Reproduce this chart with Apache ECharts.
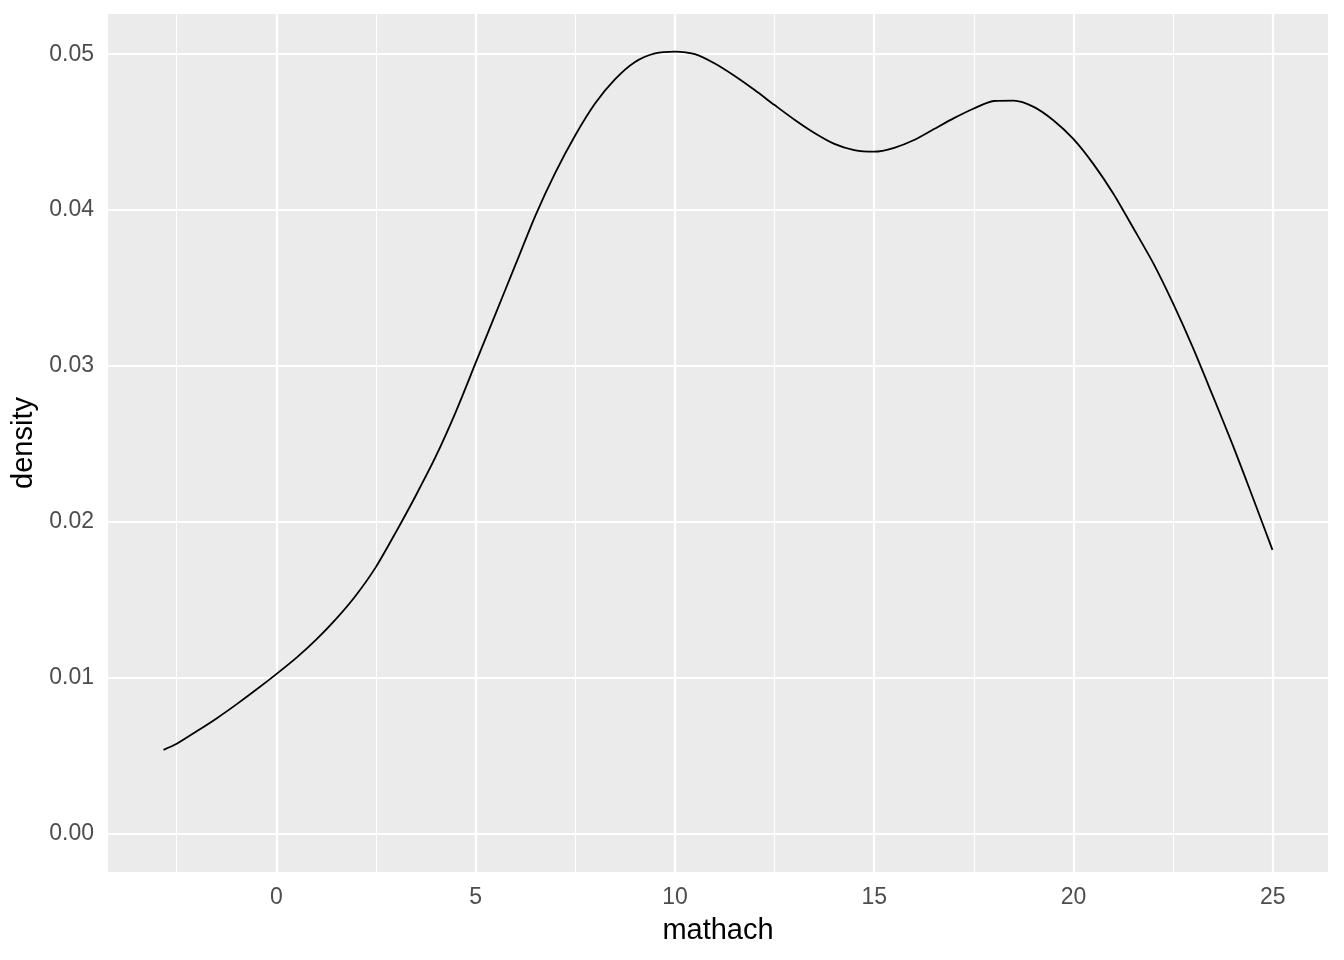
<!DOCTYPE html>
<html><head><meta charset="utf-8">
<script src="https://cdn.jsdelivr.net/npm/echarts@6/dist/echarts.min.js"></script>
<style>html,body{margin:0;padding:0;background:#fff}#c{width:1344px;height:960px}</style>
</head><body><div id="c"></div>
<script>
// Kernel density of mathach
const mathach = [-2.83, -2.5, -2.0, -1.5, -1.0, -0.5, 0, 0.5, 1.0, 1.5, 2.0, 2.5, 3.0, 3.5, 4.0, 4.5, 5.0, 5.5, 6.0, 6.5, 7.0, 7.5, 8.0, 8.5, 9.0, 9.5, 10.0, 10.5, 11.0, 11.5, 12.0, 12.5, 13.0, 13.5, 14.0, 14.5, 15.0, 15.5, 16.0, 16.5, 17.0, 17.5, 18.0, 18.5, 19.0, 19.5, 20.0, 20.5, 21.0, 21.5, 22.0, 22.5, 23.0, 23.5, 24.0, 24.5, 24.99];
const density = [0.00538, 0.00577, 0.00657, 0.00740, 0.00830, 0.00925, 0.01024, 0.01128, 0.01245, 0.01378, 0.01530, 0.01712, 0.01935, 0.02170, 0.02420, 0.02705, 0.03020, 0.03335, 0.03650, 0.03965, 0.04240, 0.04480, 0.04685, 0.04840, 0.04950, 0.05005, 0.05017, 0.05000, 0.04940, 0.04860, 0.04770, 0.04674, 0.04580, 0.04495, 0.04425, 0.04385, 0.04375, 0.04400, 0.04450, 0.04520, 0.04590, 0.04652, 0.04700, 0.04702, 0.04662, 0.04575, 0.04455, 0.04295, 0.04105, 0.03885, 0.03660, 0.03400, 0.03115, 0.02805, 0.02490, 0.02155, 0.01821];
const xTicks = [0, 5, 10, 15, 20, 25];
const xMinor = [-2.5, 2.5, 7.5, 12.5, 17.5, 22.5];
const yTicks = [0, 0.01, 0.02, 0.03, 0.04, 0.05];
const yMinor = [0.005, 0.015, 0.025, 0.035, 0.045];
const xTitle = 'mathach';
const yTitle = 'density';

const FONT = 'Liberation Sans, Arial, sans-serif';
const chart = echarts.init(document.getElementById('c'), null, {renderer: 'canvas'});

const gridLines = [];
xMinor.forEach(v => gridLines.push({xAxis: v, lineStyle: {width: 1.1}}));
yMinor.forEach(v => gridLines.push({yAxis: v, lineStyle: {width: 1.1}}));
xTicks.forEach(v => gridLines.push({xAxis: v, lineStyle: {width: 2.2}}));
yTicks.forEach(v => gridLines.push({yAxis: v, lineStyle: {width: 2.2}}));

const curve = mathach.map((x, i) => [x, density[i]]);

chart.setOption({
  animation: false,
  backgroundColor: '#ffffff',
  grid: {left: 108, right: 16, top: 14, bottom: 88, show: true, backgroundColor: '#EBEBEB', borderWidth: 0},
  xAxis: {
    type: 'value', min: -4.223, max: 26.384,
    name: xTitle, nameLocation: 'middle', nameGap: 44,
    nameTextStyle: {color: '#000', fontSize: 29, fontFamily: FONT},
    axisLine: {show: false},
    axisTick: {show: true, customValues: xTicks, length: 7, lineStyle: {color: '#333333', width: 2}},
    axisLabel: {customValues: xTicks, color: '#4D4D4D', fontSize: 23, fontFamily: FONT, margin: 14},
    splitLine: {show: false}
  },
  yAxis: {
    type: 'value', min: -0.00245, max: 0.05258,
    name: yTitle, nameLocation: 'middle', nameGap: 64, nameRotate: 90,
    nameTextStyle: {color: '#000', fontSize: 29, fontFamily: FONT},
    axisLine: {show: false},
    axisTick: {show: true, customValues: yTicks, length: 7, lineStyle: {color: '#333333', width: 2}},
    axisLabel: {customValues: yTicks, color: '#4D4D4D', fontSize: 23, fontFamily: FONT, margin: 14,
      formatter: v => v.toFixed(2)},
    splitLine: {show: false}
  },
  series: [
    {
      type: 'line', data: [], z: 1, silent: true,
      markLine: {
        silent: true, symbol: ['none', 'none'], animation: false,
        label: {show: false},
        lineStyle: {color: '#ffffff', type: 'solid'},
        emphasis: {disabled: true},
        data: gridLines
      }
    },
    {
      type: 'line', data: curve, z: 5, showSymbol: false, symbol: 'none',
      smooth: 0.25,
      lineStyle: {color: '#000000', width: 1.8},
      silent: true
    }
  ]
});
</script></body></html>
